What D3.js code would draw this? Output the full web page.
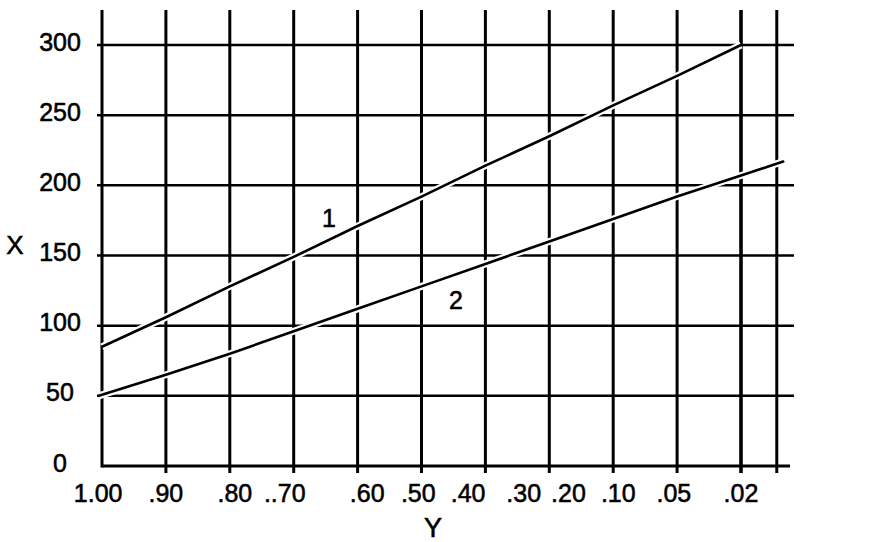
<!DOCTYPE html>
<html>
<head>
<meta charset="utf-8">
<script src="https://cdn.jsdelivr.net/npm/d3@7"></script>
<style>
  html, body { margin: 0; padding: 0; background: #fff; }
  svg { display: block; }
  text { font-family: "Liberation Sans", Arial, Helvetica, sans-serif; fill: #000; stroke: #000; stroke-width: 0.55px; }
</style>
</head>
<body>
<svg id="chart" width="880" height="542"></svg>
<script>
// ---- data ----
const xLabels = ["1.00", ".90", ".80", "..70", ".60", ".50", ".40", ".30", ".20", ".10", ".05", ".02"];
const xLabelPos = [-0.06, 1.0, 2.08, 2.86, 4.15, 4.95, 5.73, 6.6, 7.3, 8.08, 8.95, 10.0];
const xGridPos = [0, 1, 2, 3, 4, 5, 6, 7, 8, 9, 10, 10.56];
const yTicks = [0, 50, 100, 150, 200, 250, 300];

const curve1X = [0, 1, 2, 3, 4, 5, 6, 7, 8, 9, 10];
const curve1Y = [85, 106, 128, 149, 171, 192, 214, 235, 257, 278, 300];
const curve2X = [-0.05, 1, 2, 3, 4, 5, 6, 7, 8, 9, 10, 10.66];
const curve2Y = [50, 65, 80, 96, 112, 128, 144, 160, 176, 192, 207, 217];

const curveNames = ["1", "2"];
const curveNameX = [3.55, 5.54];
const curveNameY = [177, 118];

const xTitle = "Y";
const yTitle = "X";

// ---- layout ----
const svg = d3.select("#chart");
svg.append("rect").attr("width", 880).attr("height", 542).attr("fill", "#fff");

const x = d3.scaleLinear().domain([0, 10]).range([102, 741]);
const y = d3.scaleLinear().domain([0, 300]).range([466, 45]);

const gridLeft = 97, gridRight = 794, gridTop = 10, tickBottom = 473;

// horizontal grid lines
svg.append("g").selectAll("line").data(yTicks).join("line")
  .attr("x1", d => d === 0 ? x(0) : gridLeft)
  .attr("x2", d => d === 0 ? 790 : gridRight)
  .attr("y1", d => y(d)).attr("y2", d => y(d))
  .attr("stroke", "#000")
  .attr("stroke-width", d => d === 0 ? 3 : 2.5);

// vertical grid lines
svg.append("g").selectAll("line").data(xGridPos).join("line")
  .attr("x1", d => x(d)).attr("x2", d => x(d))
  .attr("y1", gridTop)
  .attr("y2", (d, i) => i === 0 ? y(0) + 1.5 : tickBottom)
  .attr("stroke", "#000")
  .attr("stroke-width", (d, i) => (i === 10 ? 3.6 : 3));

// curves
const series = [
  curve1X.map((v, i) => [v, curve1Y[i]]),
  curve2X.map((v, i) => [v, curve2Y[i]])
];
const line = d3.line().x(d => x(d[0])).y(d => y(d[1]));

const curves = svg.append("g");
curves.selectAll("path.casing").data(series).join("path")
  .attr("class", "casing")
  .attr("d", line)
  .attr("fill", "none")
  .attr("stroke", "#fff")
  .attr("stroke-width", 7);
curves.selectAll("path.curve").data(series).join("path")
  .attr("class", "curve")
  .attr("d", line)
  .attr("fill", "none")
  .attr("stroke", "#000")
  .attr("stroke-width", 2.6)
  .attr("stroke-linecap", "round");

// curve labels
svg.append("g").selectAll("text").data(curveNames).join("text")
  .attr("x", (d, i) => x(curveNameX[i]))
  .attr("y", (d, i) => y(curveNameY[i]) + 9)
  .attr("text-anchor", "middle")
  .attr("font-size", 25)
  .text(d => d);

// y tick labels
svg.append("g").selectAll("text").data(yTicks).join("text")
  .attr("x", 60)
  .attr("y", d => y(d) + 5.5)
  .attr("text-anchor", "middle")
  .attr("font-size", 25)
  .text(d => d);

// x tick labels
svg.append("g").selectAll("text").data(xLabels).join("text")
  .attr("x", (d, i) => x(xLabelPos[i]))
  .attr("y", 502)
  .attr("text-anchor", "middle")
  .attr("font-size", 25)
  .text(d => d);

// axis titles
svg.append("text").attr("x", 15).attr("y", 254)
  .attr("text-anchor", "middle").attr("font-size", 26).text(yTitle);
svg.append("text").attr("x", 433).attr("y", 537)
  .attr("text-anchor", "middle").attr("font-size", 27).text(xTitle);
</script>
</body>
</html>
